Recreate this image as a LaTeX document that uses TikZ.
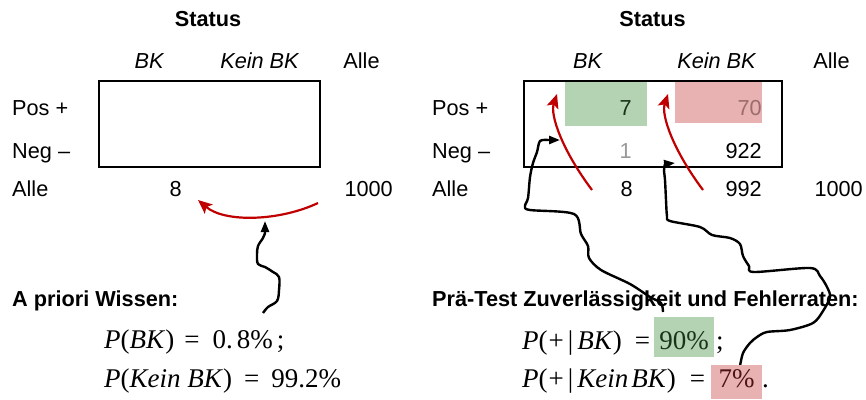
\documentclass[tikz,border=0pt]{standalone}
\usepackage{fontspec}
\setmainfont{Liberation Sans}
\newfontfamily\tms{Liberation Serif}
\usetikzlibrary{arrows.meta}
\definecolor{arrred}{HTML}{C00000}
\definecolor{gfill}{HTML}{B3D3B3}
\definecolor{rfill}{HTML}{E9B2B2}
\definecolor{gtext}{HTML}{1A331A}
\definecolor{rtext}{HTML}{4D1515}
\definecolor{rgray}{HTML}{9C6B6B}
\definecolor{ltgray}{HTML}{999999}
\begin{document}
\begin{tikzpicture}[x=1pt,y=-1pt,
  lbl/.style={inner sep=0pt, font=\fontsize{21.7}{26}\selectfont},
  hdr/.style={inner sep=0pt, font=\fontsize{21.7}{26}\selectfont\bfseries},
  frm/.style={inner sep=0pt, font=\fontsize{27}{32}\selectfont\tms},
  tbox/.style={draw, line width=2.2pt, inner sep=0pt, anchor=north west},
  cell/.style={inner sep=0pt, anchor=north west},
  redarr/.style={draw=arrred, line width=2.2pt, -{Stealth[length=14pt,width=12pt,inset=3pt]}},
  wavy/.style={draw, line width=2.4pt, line join=round, -{Triangle[length=11pt,width=8pt]}}
]
\useasboundingbox (0,0) rectangle (866,399);

% ---------- left panel ----------
\node[hdr, anchor=base] (st1) at (208,26) {Status};
\node[lbl, anchor=base] (bk1) at (149,68) {\itshape BK};
\node[lbl, anchor=base] (kbk1) at (259.5,68) {\itshape Kein BK};
\node[lbl, anchor=base] (al1) at (361.5,68) {Alle};
\node[tbox, minimum width=221pt, minimum height=86pt] (box1) at (98,80) {};
\node[lbl, anchor=base west] (pos1) at (12,115) {Pos +};
\node[lbl, anchor=base west] (neg1) at (12,158) {Neg –};
\node[lbl, anchor=base west] (all1) at (12,196) {Alle};
\node[lbl, anchor=base east] (n8a) at (182,196) {8};
\node[lbl, anchor=base east] (n1000a) at (393,196) {1000};

\coordinate (ra1s) at (318,203);
\coordinate (ra1e) at (198,200);
\draw[redarr] (ra1s) .. controls (280,221) and (225,223) .. (ra1e);

\coordinate (wl1) at (265,221);
\draw[wavy] plot[smooth, tension=0.6] coordinates {(263,313) (268,307) (277,301) (279,290) (279,277) (273,272) (265,267) (258,264) (257,255) (258,246) (263,238) (265,233)} -- (wl1);

\node[hdr, anchor=base west] (apw) at (12,306) {A priori Wissen:};
\node[frm, anchor=base west] (f1) at (104,348) {\textit{P}(\textit{BK\/})\hspace{10pt}=\hspace{13pt}0.\hspace{4pt}8\%\hspace{4pt};};
\node[frm, anchor=base west] (f2) at (104,387) {\textit{P}(\textit{Kein BK\/})\hspace{12pt}=\hspace{12pt}99.2\%};

% ---------- right panel ----------
\node[hdr, anchor=base] (st2) at (652.5,26) {Status};
\node[lbl, anchor=base] (bk2) at (587.5,68) {\itshape BK};
\node[lbl, anchor=base] (kbk2) at (716.5,68) {\itshape Kein BK};
\node[lbl, anchor=base] (al2) at (831.5,68) {Alle};
\node[cell, fill=gfill, minimum width=82pt, minimum height=45pt] (cg) at (565,81) {};
\node[cell, fill=rfill, minimum width=87pt, minimum height=42pt] (cr) at (675,81) {};
\node[tbox, minimum width=258pt, minimum height=86pt] (box2) at (523,80) {};
\node[lbl, anchor=base west] (pos2) at (432,115) {Pos +};
\node[lbl, anchor=base west] (neg2) at (432,158) {Neg –};
\node[lbl, anchor=base west] (all2) at (432,196) {Alle};
\node[lbl, anchor=base east, text=gtext] (n7) at (632,115) {7};
\node[lbl, anchor=base east, text=rgray] (n70) at (762,115) {70};
\node[lbl, anchor=base east, text=ltgray] (n1) at (632,158) {1};
\node[lbl, anchor=base east] (n922) at (762,158) {922};
\node[lbl, anchor=base east] (n8b) at (633,196) {8};
\node[lbl, anchor=base east] (n992) at (762,196) {992};
\node[lbl, anchor=base east] (n1000b) at (863,196) {1000};

\coordinate (ra2s) at (592,190);
\coordinate (ra2e) at (557,94);
\draw[redarr] (ra2s) .. controls (562,150) and (550,115) .. (ra2e);
\coordinate (ra3s) at (703,190);
\coordinate (ra3e) at (668,94);
\draw[redarr] (ra3s) .. controls (673,150) and (661,115) .. (ra3e);

\coordinate (wr1) at (560,140);
\draw[wavy] plot[smooth, tension=0.5] coordinates {(663,312) (661,303) (650,297) (630,284) (601,270) (589,258) (588,246) (581,234) (574,214) (530,210) (525,206) (528,198) (530,177) (533,163) (537,152) (540,141) (548,140)} -- (wr1);

\coordinate (wr2) at (675,163);
\draw[wavy] plot[smooth, tension=0.5] coordinates {(740,366) (743,353) (750,343) (757,337) (767,332) (790,330) (813,323) (823,311) (830,297) (827,287) (820,276) (810,268) (754,272) (749,266) (743,256) (740,244) (730,238) (712,235) (700,227) (670,221) (667,216) (666,200) (665,180) (664,170) (665,164)} -- (wr2);

\node[hdr, anchor=base west] (ptz) at (432,306) {Prä-Test Zuverlässigkeit und Fehlerraten:};
\node[frm, anchor=base west] (f3) at (522,349) {\textit{P}(\hspace{1pt}+\hspace{4pt}|\hspace{4pt}\textit{BK\/})\hspace{13pt}=};
\node[frm, anchor=base, fill=gfill, text=gtext, minimum width=60pt, text height=32pt, text depth=8pt] (v90) at (684,349) {90\%};
\node[frm, anchor=base west] (s3) at (716,349) {;};
\node[frm, anchor=base west] (f4) at (522,387) {\textit{P}(\hspace{1pt}+\hspace{4pt}|\hspace{4pt}\textit{Kein\hspace{3pt}BK\/})\hspace{14pt}=};
\node[frm, anchor=base, fill=rfill, text=rtext, minimum width=51pt, text height=22pt, text depth=12pt] (v7) at (736.5,387) {7\%};
\node[frm, anchor=base west] (s4) at (762,387) {.};
\end{tikzpicture}
\end{document}
